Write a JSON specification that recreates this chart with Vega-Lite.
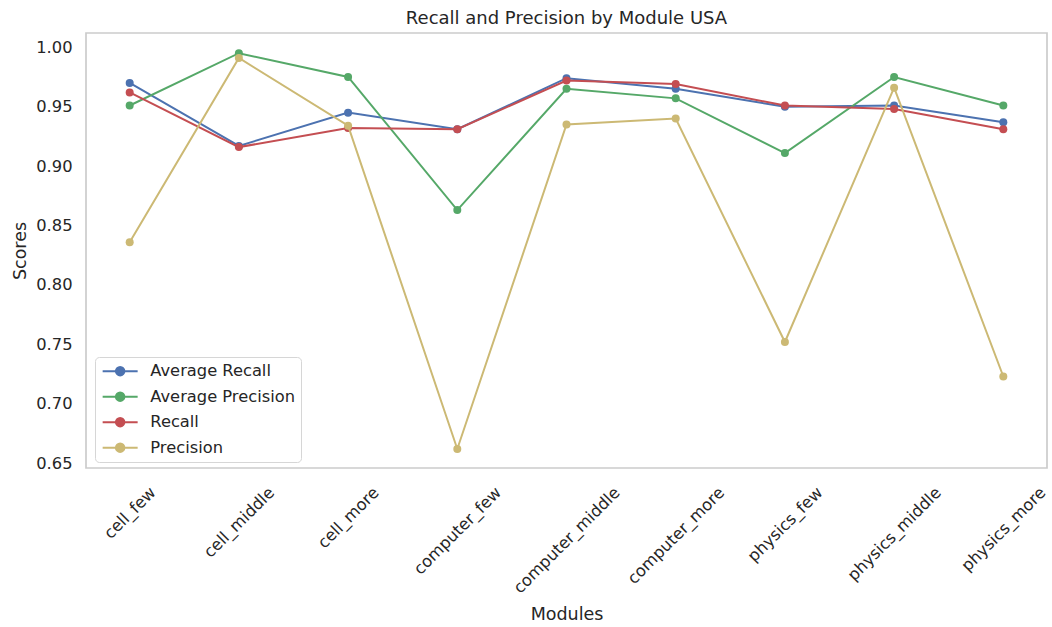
{
  "$schema": "https://vega.github.io/schema/vega-lite/v6.json",
  "width": 961,
  "height": 435,
  "autosize": {"type": "none"},
  "padding": {"left": 86, "top": 33, "right": 5, "bottom": 159},
  "background": "white",
  "config": {
    "font": "DejaVu Sans",
    "view": {"stroke": "#cccccc", "strokeWidth": 1.7},
    "axis": {"grid": false, "domain": false, "ticks": false, "tickSize": 0, "labelColor": "#262626", "titleColor": "#262626", "labelFontSize": 16.3, "titleFontSize": 17.5, "titleFontWeight": "normal", "labelFont": "DejaVu Sans", "titleFont": "DejaVu Sans"}
  },
  "title": {"text": "Recall and Precision by Module USA", "fontSize": 18, "font": "DejaVu Sans", "fontWeight": "normal", "color": "#262626", "offset": 5, "anchor": "middle", "frame": "group"},
  "data": {"values": [
    {"module": "cell_few", "series": "Average Recall", "value": 0.970},
    {"module": "cell_few", "series": "Average Precision", "value": 0.951},
    {"module": "cell_few", "series": "Recall", "value": 0.962},
    {"module": "cell_few", "series": "Precision", "value": 0.836},
    {"module": "cell_middle", "series": "Average Recall", "value": 0.917},
    {"module": "cell_middle", "series": "Average Precision", "value": 0.995},
    {"module": "cell_middle", "series": "Recall", "value": 0.916},
    {"module": "cell_middle", "series": "Precision", "value": 0.991},
    {"module": "cell_more", "series": "Average Recall", "value": 0.945},
    {"module": "cell_more", "series": "Average Precision", "value": 0.975},
    {"module": "cell_more", "series": "Recall", "value": 0.932},
    {"module": "cell_more", "series": "Precision", "value": 0.934},
    {"module": "computer_few", "series": "Average Recall", "value": 0.931},
    {"module": "computer_few", "series": "Average Precision", "value": 0.863},
    {"module": "computer_few", "series": "Recall", "value": 0.931},
    {"module": "computer_few", "series": "Precision", "value": 0.662},
    {"module": "computer_middle", "series": "Average Recall", "value": 0.974},
    {"module": "computer_middle", "series": "Average Precision", "value": 0.965},
    {"module": "computer_middle", "series": "Recall", "value": 0.972},
    {"module": "computer_middle", "series": "Precision", "value": 0.935},
    {"module": "computer_more", "series": "Average Recall", "value": 0.965},
    {"module": "computer_more", "series": "Average Precision", "value": 0.957},
    {"module": "computer_more", "series": "Recall", "value": 0.969},
    {"module": "computer_more", "series": "Precision", "value": 0.940},
    {"module": "physics_few", "series": "Average Recall", "value": 0.950},
    {"module": "physics_few", "series": "Average Precision", "value": 0.911},
    {"module": "physics_few", "series": "Recall", "value": 0.951},
    {"module": "physics_few", "series": "Precision", "value": 0.752},
    {"module": "physics_middle", "series": "Average Recall", "value": 0.951},
    {"module": "physics_middle", "series": "Average Precision", "value": 0.975},
    {"module": "physics_middle", "series": "Recall", "value": 0.948},
    {"module": "physics_middle", "series": "Precision", "value": 0.966},
    {"module": "physics_more", "series": "Average Recall", "value": 0.937},
    {"module": "physics_more", "series": "Average Precision", "value": 0.951},
    {"module": "physics_more", "series": "Recall", "value": 0.931},
    {"module": "physics_more", "series": "Precision", "value": 0.723}
  ]},
  "encoding": {
    "x": {"field": "module", "type": "nominal", "sort": null,
      "scale": {"type": "point", "padding": 0.4},
      "axis": {"title": "Modules", "labelAngle": -45, "labelAlign": "center", "labelBaseline": "middle", "labelOverlap": false, "labelBound": false, "labelFlush": false, "titleY": 151, "titleBaseline": "alphabetic",
        "labelPadding": {"condition": [
          {"test": "datum.label == 'cell_few'", "value": 44.6},
          {"test": "datum.label == 'cell_middle'", "value": 54.0},
          {"test": "datum.label == 'cell_more'", "value": 49.4},
          {"test": "datum.label == 'computer_few'", "value": 62.5},
          {"test": "datum.label == 'computer_middle'", "value": 71.9},
          {"test": "datum.label == 'computer_more'", "value": 67.3},
          {"test": "datum.label == 'physics_few'", "value": 56.2},
          {"test": "datum.label == 'physics_middle'", "value": 65.6}
        ], "value": 61.0}}},
    "y": {"field": "value", "type": "quantitative",
      "scale": {"domain": [0.646, 1.012], "nice": false, "zero": false},
      "axis": {"title": "Scores", "values": [0.65, 0.7, 0.75, 0.8, 0.85, 0.9, 0.95, 1.0], "format": ".2f", "labelPadding": 14, "titleX": -61, "titleBaseline": "alphabetic"}},
    "color": {"field": "series", "type": "nominal",
      "scale": {"domain": ["Average Recall", "Average Precision", "Recall", "Precision"], "range": ["#4c72b0", "#55a868", "#c44e52", "#ccb974"]},
      "legend": {"title": null, "orient": "none", "legendX": 9, "legendY": 324, "padding": 6,
        "fillColor": "white", "strokeColor": "#d6d6d6", "cornerRadius": 4,
        "symbolType": "M-3.5,0H3.5M0.85,0A0.85,0.85 0 1 1 -0.85,0A0.85,0.85 0 1 1 0.85,0Z",
        "symbolSize": 100, "symbolStrokeWidth": 2, "symbolOffset": 11, "labelOffset": 22,
        "labelFontSize": 16.3, "labelColor": "#262626", "labelFont": "DejaVu Sans", "rowPadding": 7.5, "symbolOpacity": 1,
        "encode": {"symbols": {"update": {"fill": {"scale": "color", "field": "value"}, "stroke": {"scale": "color", "field": "value"}, "opacity": {"value": 1}}}}}}
  },
  "layer": [
    {"transform": [{"filter": "datum.series == 'Average Recall'"}], "mark": {"type": "line", "strokeWidth": 2, "point": {"filled": true, "size": 64, "opacity": 1}}},
    {"transform": [{"filter": "datum.series == 'Average Precision'"}], "mark": {"type": "line", "strokeWidth": 2, "point": {"filled": true, "size": 64, "opacity": 1}}},
    {"transform": [{"filter": "datum.series == 'Recall'"}], "mark": {"type": "line", "strokeWidth": 2, "point": {"filled": true, "size": 64, "opacity": 1}}},
    {"transform": [{"filter": "datum.series == 'Precision'"}], "mark": {"type": "line", "strokeWidth": 2, "point": {"filled": true, "size": 64, "opacity": 1}}}
  ]
}
